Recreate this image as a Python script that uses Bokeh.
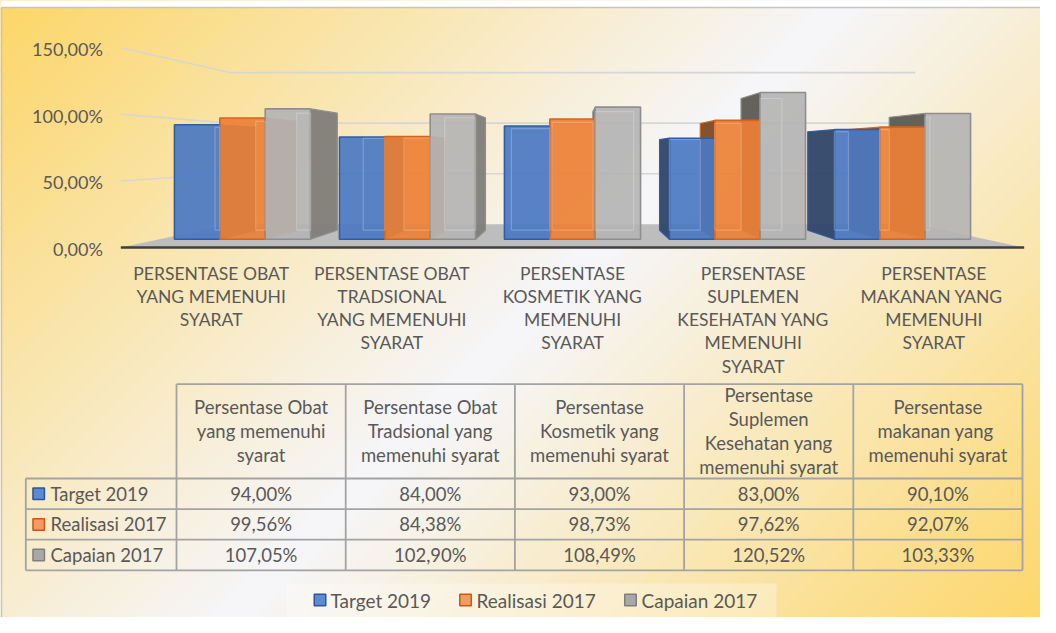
import numpy as np
from bokeh.plotting import figure
from bokeh.models import Range1d, ColumnDataSource
from bokeh.embed import file_html
from bokeh.resources import INLINE
from bokeh.core.properties import value

# ---------------- data ----------------
series_names = ["Target 2019", "Realisasi 2017", "Capaian 2017"]
target_2019 = [94.00, 84.00, 93.00, 83.00, 90.10]
realisasi_2017 = [99.56, 84.38, 98.73, 97.62, 92.07]
capaian_2017 = [107.05, 102.90, 108.49, 120.52, 103.33]
axis_labels = [
    "PERSENTASE OBAT\nYANG MEMENUHI\nSYARAT",
    "PERSENTASE OBAT\nTRADSIONAL\nYANG MEMENUHI\nSYARAT",
    "PERSENTASE\nKOSMETIK YANG\nMEMENUHI\nSYARAT",
    "PERSENTASE\nSUPLEMEN\nKESEHATAN YANG\nMEMENUHI\nSYARAT",
    "PERSENTASE\nMAKANAN  YANG\nMEMENUHI\nSYARAT",
]
table_headers = [
    "Persentase Obat\nyang memenuhi\nsyarat",
    "Persentase Obat\nTradsional yang\nmemenuhi syarat",
    "Persentase\nKosmetik yang\nmemenuhi syarat",
    "Persentase\nSuplemen\nKesehatan yang\nmemenuhi syarat",
    "Persentase\nmakanan  yang\nmemenuhi syarat",
]
y_ticks = [0, 50, 100, 150]
series_values = [target_2019, realisasi_2017, capaian_2017]


def pct(v):
    return f"{v:.2f}%".replace(".", ",")


# ---------------- styles / layout ----------------
FONT = value("Lato")
TXT = "#595959"
FACE = ["#4A78C2", "#EC8035", "#B4B4B4"]
EDGE = ["#2F5DAA", "#D5651C", "#8E8E8E"]
SIDE_R = ["#3D63A3", "#BF6428", "#7F7D79"]
SIDE_L = ["#2F4569", "#7A4A26", "#5D5852"]
KEY_FILL = ["#5B8BD0", "#F29A62", "#A8A8A8"]
KEY_EDGE = ["#2F5597", "#C55A11", "#7F7F7F"]

CAT_PX0, CAT_PX = 250.0, 165.0      # category 0 centre / px per category
PCT_PX0, PCT_PX = 246.7, 1.217      # 0 % baseline / px per percent
VX, VV = 2.0, 72.5                  # vanishing point (category units, percent)
SF, SBW, SB = 1.095, 0.831, 0.898   # depth scales: floor front, back wall, bar back
BW = 0.275                          # bar width in category units

n = len(axis_labels)
XL, XH = -0.5, n - 0.5


def proj(x, v, s):
    return VX + (x - VX) * s, VV + (v - VV) * s


p = figure(width=1040, height=617, x_range=Range1d(8, 1048), y_range=Range1d(625, 8),
           output_backend="svg", toolbar_location=None,
           x_axis_location=None, y_axis_location=None, min_border=0,
           outline_line_color=None, background_fill_color="white",
           border_fill_color="white")
p.grid.visible = False
p.extra_x_ranges = {"cat": Range1d((8 - CAT_PX0) / CAT_PX, (1048 - CAT_PX0) / CAT_PX)}
p.extra_y_ranges = {"pct": Range1d((PCT_PX0 - 625) / PCT_PX, (PCT_PX0 - 8) / PCT_PX)}
R = dict(x_range_name="cat", y_range_name="pct")

# ---------------- background gradient ----------------
stops_t = [0.0, 0.5, 1.0]
stops_c = [(252, 214, 104), (246, 246, 250), (253, 214, 102)]
NB = 140
ks = np.linspace(0, 1700, NB + 1)
bxs, bys, bcs = [], [], []
for a, b in zip(ks[:-1], ks[1:]):
    t = min(max(((a + b) / 2 - 23) / 1677, 0), 1)
    col = [int(round(np.interp(t, stops_t, [c[i] for c in stops_c]))) for i in range(3)]
    b2 = b + 1.5
    bxs.append([-50, 1100, 1100, -50])
    bys.append([a + 50, a - 1100, b2 - 1100, b2 + 50])
    bcs.append("#%02x%02x%02x" % tuple(col))
p.patches(bxs, bys, fill_color=bcs, line_color=None)
p.quad(left=8, right=1048, top=8, bottom=15, fill_color="white", line_color=None)
p.line([9, 1048], [15, 15], line_color="#C4C4C4", line_width=1.5)
p.line([9, 9], [15, 625], line_color="#C4C4C4", line_width=1.5)

# ---------------- 3D chart: walls, floor ----------------
fl = [proj(XL, 0, SF), proj(XH, 0, SF), proj(XH, 0, SBW), proj(XL, 0, SBW)]
p.patch([q[0] for q in fl], [q[1] for q in fl], fill_color="#BDBDBD", line_color=None, **R)

gx, gy = [], []
for v in y_ticks[1:]:
    pts = [proj(XL, v, SF), proj(XL, v, SBW), proj(XH, v, SBW)]
    gx.append([q[0] for q in pts])
    gy.append([q[1] for q in pts])
p.multi_line(gx, gy, line_color="#D6D6D6", line_width=1.6, **R)

p.line([fl[0][0], fl[1][0]], [fl[0][1], fl[1][1]], line_color="#3F3F3F", line_width=2.5, **R)

# ---------------- bars ----------------
side_x, side_y, side_c, side_e = [], [], [], []
bl, br, bt, bc, be = [], [], [], [], []
ib_x, ib_y, ib_c = [], [], []
for k, vals in enumerate(series_values):
    for i, v in enumerate(vals):
        l = i + (k - 1.5) * BW
        r = l + BW
        if r <= VX:
            e = r
            col = SIDE_R[k]
        elif l >= VX:
            e = l
            col = SIDE_L[k]
        else:
            e = None
        if e is not None:
            pts = [proj(e, 0, 1), proj(e, v, 1), proj(e, v, SB), proj(e, 0, SB)]
            side_x.append([q[0] for q in pts])
            side_y.append([q[1] for q in pts])
            side_c.append(col)
            side_e.append(EDGE[k])
        bl.append(l); br.append(r); bt.append(v); bc.append(FACE[k]); be.append(EDGE[k])
        # back face edges seen through the translucent front
        (x0, y0), (x1, y1) = proj(l, 0, SB), proj(r, v, SB)
        x0c, x1c = max(x0, l), min(x1, r)
        ib_x.append([x0c, x0c, x1c, x1c, x0c])
        ib_y.append([y0, y1, y1, y0, y0])
        ib_c.append("#FFFFFF")

p.patches(side_x, side_y, fill_color=side_c, line_color=side_e, line_width=1.2,
          fill_alpha=0.95, **R)
p.quad(left=bl, right=br, bottom=0, top=bt, fill_color=bc, fill_alpha=0.92,
       line_color=be, line_width=1.6, **R)
p.multi_line(ib_x, ib_y, line_color=ib_c, line_alpha=0.22, line_width=1.2, **R)

# ---------------- axis labels ----------------
tx = [proj(XL, v, SF)[0] for v in y_ticks]
ty = [proj(XL, v, SF)[1] for v in y_ticks]
p.text(x=tx, y=ty, text=[pct(v) for v in y_ticks], x_offset=-18, y_offset=1.5,
       text_align="right", text_baseline="middle", text_font=FONT,
       text_font_size="18px", text_color=TXT, **R)

cx, cy, ct = [], [], []
for i, lab in enumerate(axis_labels):
    fx_, fy_ = proj(i, 0, SF)
    for j, line in enumerate(lab.split("\n")):
        cx.append(fx_)
        cy.append(fy_ - (25.5 + 23.3 * j) / PCT_PX)
        ct.append(line)
p.text(x=cx, y=cy, text=ct, text_align="center", text_baseline="middle",
       text_font=FONT, text_font_size="17.5px", text_color=TXT, **R)

# ---------------- data table ----------------
T_LEFT, T_X0, T_X1 = 33.3, 184.0, 1030.0
T_TOP, T_HB = 391.7, 486.0
ROW_H = 30.6
CW = (T_X1 - T_X0) / n
col_edges = [T_X0 + CW * j for j in range(n + 1)]
row_edges = [T_HB + ROW_H * r for r in range(len(series_names) + 1)]

sx0, sy0, sx1, sy1 = [], [], [], []
sx0.append(T_X0); sy0.append(T_TOP); sx1.append(T_X1); sy1.append(T_TOP)
for yv in row_edges:
    sx0.append(T_LEFT); sy0.append(yv); sx1.append(T_X1); sy1.append(yv)
for xv in col_edges:
    sx0.append(xv); sy0.append(T_TOP); sx1.append(xv); sy1.append(row_edges[-1])
sx0.append(T_LEFT); sy0.append(T_HB); sx1.append(T_LEFT); sy1.append(row_edges[-1])
p.segment(sx0, sy0, sx1, sy1, line_color="#A3A3A3", line_width=1.8)

hx, hy, ht = [], [], []
for j, h in enumerate(table_headers):
    lines = h.split("\n")
    for m, line in enumerate(lines):
        hx.append(T_X0 + CW * (j + 0.5))
        hy.append((T_TOP + T_HB) / 2 + (m - (len(lines) - 1) / 2) * 24.0)
        ht.append(line)
p.text(x=hx, y=hy, text=ht, text_align="center", text_baseline="middle",
       text_font=FONT, text_font_size="18.5px", text_color=TXT)

vx, vy, vt = [], [], []
for k, vals in enumerate(series_values):
    for j, v in enumerate(vals):
        vx.append(T_X0 + CW * (j + 0.5))
        vy.append(row_edges[k] + ROW_H / 2)
        vt.append(pct(v))
p.text(x=vx, y=vy, text=vt, text_align="center", text_baseline="middle",
       text_font=FONT, text_font_size="18.5px", text_color=TXT)

rmid = [row_edges[k] + ROW_H / 2 for k in range(len(series_names))]
p.rect(x=[46.2] * len(series_names), y=rmid, width=11.5, height=11.5,
       fill_color=KEY_FILL, line_color=KEY_EDGE, line_width=1.5)
p.text(x=[58] * len(series_names), y=rmid, text=series_names, text_align="left",
       text_baseline="middle", text_font=FONT, text_font_size="18.5px", text_color=TXT)

# ---------------- legend ----------------
p.quad(left=294, right=784, top=591, bottom=626, fill_color="white", fill_alpha=0.3,
       line_color=None)
leg_sq = [327.5, 473.0, 638.0]
leg_tx = [338.0, 484.0, 649.0]
p.rect(x=leg_sq, y=[607.5] * 3, width=11.5, height=11.5, fill_color=KEY_FILL,
       line_color=KEY_EDGE, line_width=1.5)
p.text(x=leg_tx, y=[607.5] * 3, text=series_names, text_align="left",
       text_baseline="middle", text_font=FONT, text_font_size="19px", text_color=TXT)

open("out.html", "w").write(file_html(p, INLINE))
